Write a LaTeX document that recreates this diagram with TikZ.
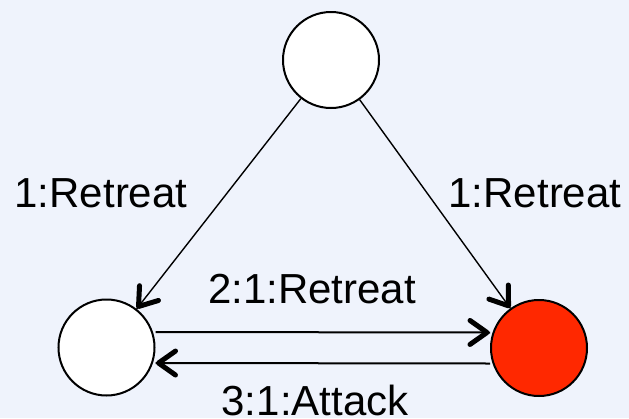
\documentclass[tikz,border=0pt]{standalone}
\usepackage{fontspec}
\setmainfont{Liberation Sans}
\usetikzlibrary{decorations.markings}
\definecolor{bgblue}{RGB}{239,243,252}
\definecolor{hotred}{RGB}{255,40,0}
\tikzset{
  state/.style={circle, draw=black, line width=2pt, minimum size=96pt, inner sep=0pt},
  % bold open chevron drawn at the end of each connector
  edge/.style={line width=2pt, postaction={decorate}, decoration={markings,
      mark=at position 1 with {\draw[line width=5pt, line cap=round, line join=round]
        (-20pt,12pt) -- (-3pt,0pt) -- (-20pt,-12pt);}}},
  diag/.style={edge, line width=1.4pt},
  lbl/.style={font=\fontsize{42}{42}\selectfont, inner sep=0pt, anchor=base}
}
\begin{document}
\begin{tikzpicture}[x=1pt,y=-1pt]
  \fill[bgblue] (0,0) rectangle (629,418);
  \useasboundingbox (0,0) rectangle (629,418);
  \node[state, fill=white] (top) at (331,60) {};
  \node[state, fill=white] (left) at (106.5,347.5) {};
  \node[state, fill=hotred] (right) at (539,348) {};
  \draw[diag] (top) -- (left);
  \draw[diag] (top) -- (right);
  \draw[edge] ([yshift=15.5pt]left.east) -- ([yshift=15.5pt]right.west);
  \draw[edge] ([yshift=-15.5pt]right.west) -- ([yshift=-15.5pt]left.east);
  \node[lbl] (lt) at (101,207) {1:Retreat};
  \node[lbl] (rt) at (535,207) {1:Retreat};
  \node[lbl] (mid) at (312,303) {2:1:Retreat};
  \node[lbl] (bot) at (315,415) {3:1:Attack};
\end{tikzpicture}
\end{document}
